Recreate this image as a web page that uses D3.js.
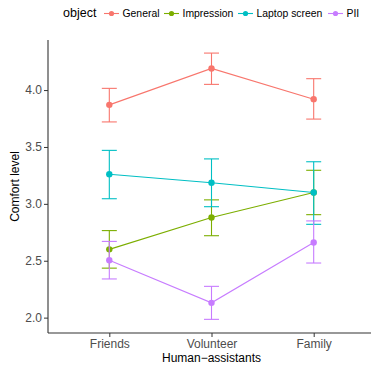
<!DOCTYPE html>
<html lang="en">
<head>
<meta charset="UTF-8">
<title>Comfort level by human assistants</title>
<style>
  body { margin: 0; background: #fff; }
  svg { display: block; font-family: "Liberation Sans", Arial, sans-serif; }
</style>
</head>
<body>
<div id="chart"></div>
<script src="https://cdn.jsdelivr.net/npm/d3@7"></script>
<script>
// data
const assistants = ['Friends', 'Volunteer', 'Family'];
const objects = ['General', 'Impression', 'Laptop screen', 'PII'];
const colors = ['#F8766D', '#7CAE00', '#00BFC4', '#C77CFF'];

const generalMean = [3.87, 4.19, 3.92];
const generalLow  = [3.72, 4.05, 3.745];
const generalHigh = [4.015, 4.325, 4.10];

const impressionMean = [2.60, 2.88, 3.10];
const impressionLow  = [2.435, 2.72, 2.905];
const impressionHigh = [2.765, 3.035, 3.295];

const laptopMean = [3.26, 3.185, 3.10];
const laptopLow  = [3.045, 2.975, 2.82];
const laptopHigh = [3.47, 3.395, 3.37];

const piiMean = [2.505, 2.13, 2.66];
const piiLow  = [2.34, 1.985, 2.48];
const piiHigh = [2.67, 2.275, 2.85];

const yTicks = [2.0, 2.5, 3.0, 3.5, 4.0];

const series = [
  { name: objects[0], color: colors[0], mean: generalMean, low: generalLow, high: generalHigh },
  { name: objects[1], color: colors[1], mean: impressionMean, low: impressionLow, high: impressionHigh },
  { name: objects[2], color: colors[2], mean: laptopMean, low: laptopLow, high: laptopHigh },
  { name: objects[3], color: colors[3], mean: piiMean, low: piiLow, high: piiHigh }
];

const W = 371, H = 368;
const panel = { left: 48, right: 375, top: 40, bottom: 333 };

const svg = d3.select('#chart').append('svg')
  .attr('width', W).attr('height', H);

// discrete x like ggplot: 0.6 expansion each side
const x = d3.scalePoint().domain(assistants)
  .range([panel.left, panel.right]).padding(0.6);
const y = d3.scaleLinear().domain([1.865, 4.44])
  .range([panel.bottom, panel.top]);

// axes
const yAxis = svg.append('g')
  .attr('transform', `translate(${panel.left},0)`)
  .call(d3.axisLeft(y).tickValues(yTicks).tickFormat(d3.format('.1f')).tickSize(4).tickPadding(2));
const xAxis = svg.append('g')
  .attr('transform', `translate(0,${panel.bottom})`)
  .call(d3.axisBottom(x).tickSize(4).tickPadding(2.5));

[yAxis, xAxis].forEach(g => {
  g.select('.domain').attr('stroke', '#333').attr('stroke-width', 1.1);
  g.selectAll('.tick line').attr('stroke', '#333').attr('stroke-width', 1);
  g.selectAll('.tick text').attr('fill', '#4d4d4d')
    .attr('font-size', 12).attr('font-family', '"Liberation Sans", Arial, sans-serif');
});
// y domain line spans the full panel
yAxis.select('.domain').attr('d', `M0,${panel.top}V${panel.bottom}`);
xAxis.select('.domain').attr('d', `M${panel.left},0H${W}`);

// axis titles
svg.append('text')
  .attr('transform', `translate(19,${(panel.top + panel.bottom) / 2}) rotate(-90)`)
  .attr('text-anchor', 'middle').attr('font-size', 12).attr('fill', '#000')
  .text('Comfort level');
svg.append('text')
  .attr('x', x('Volunteer')).attr('y', 362)
  .attr('text-anchor', 'middle').attr('font-size', 12).attr('fill', '#000')
  .text('Human\u2212assistants');

// marks
const capHalf = 7.5;
const line = d3.line().x((d, i) => x(assistants[i])).y(d => y(d));

const groups = svg.append('g').selectAll('g').data(series).join('g');

groups.append('path')
  .attr('d', s => line(s.mean))
  .attr('fill', 'none').attr('stroke', s => s.color).attr('stroke-width', 1.1);

groups.each(function (s) {
  const g = d3.select(this);
  const rows = assistants.map((a, i) => ({ a, lo: s.low[i], hi: s.high[i], m: s.mean[i] }));
  const eb = g.selectAll('g.eb').data(rows).join('g').attr('class', 'eb')
    .attr('stroke', s.color).attr('stroke-width', 1.1);
  eb.append('line').attr('x1', d => x(d.a)).attr('x2', d => x(d.a))
    .attr('y1', d => y(d.lo)).attr('y2', d => y(d.hi));
  eb.append('line').attr('x1', d => x(d.a) - capHalf).attr('x2', d => x(d.a) + capHalf)
    .attr('y1', d => y(d.lo)).attr('y2', d => y(d.lo));
  eb.append('line').attr('x1', d => x(d.a) - capHalf).attr('x2', d => x(d.a) + capHalf)
    .attr('y1', d => y(d.hi)).attr('y2', d => y(d.hi));
  g.selectAll('circle').data(rows).join('circle')
    .attr('cx', d => x(d.a)).attr('cy', d => y(d.m)).attr('r', 3.2)
    .attr('fill', s.color);
});

// legend at top
const legend = svg.append('g').attr('transform', 'translate(0,13.5)');
legend.append('text').attr('x', 63).attr('y', 3)
  .attr('font-size', 12.5).attr('fill', '#000').text('object');
const keyX = [104, 164, 238, 328];
series.forEach((s, i) => {
  const k = legend.append('g').attr('transform', `translate(${keyX[i]},0)`);
  k.append('line').attr('x1', 0).attr('x2', 15).attr('y1', 0).attr('y2', 0)
    .attr('stroke', s.color).attr('stroke-width', 1.1);
  k.append('circle').attr('cx', 7.5).attr('cy', 0).attr('r', 2.6).attr('fill', s.color);
  k.append('text').attr('x', 18.5).attr('y', 3.7)
    .attr('font-size', 10.4).attr('fill', '#000').text(s.name);
});
</script>
</body>
</html>
